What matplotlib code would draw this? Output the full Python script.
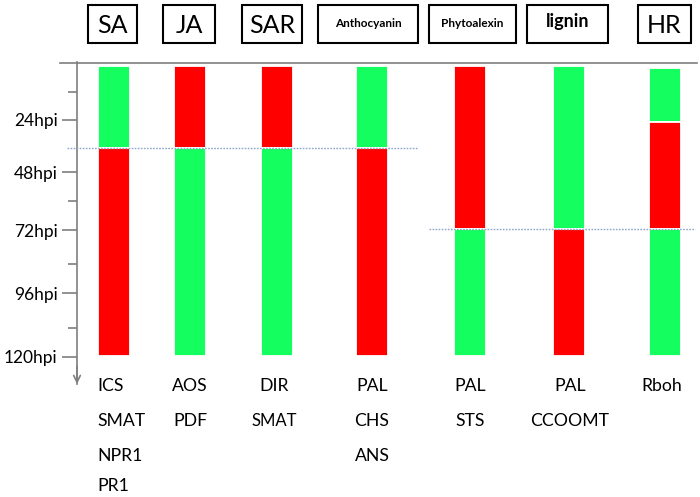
import matplotlib
matplotlib.use("Agg")
import matplotlib.pyplot as plt
from matplotlib.patches import Rectangle

plt.rcParams['font.family'] = ['Lato', 'DejaVu Sans']

# categories (boxes on top) and gene names under each column
categories = ["SA", "JA", "SAR", "Anthocyanin", "Phytoalexin", "lignin", "HR"]
genes = [["ICS", "SMAT", "NPR1", "PR1"],
         ["AOS", "PDF"],
         ["DIR", "SMAT"],
         ["PAL", "CHS", "ANS"],
         ["PAL", "STS"],
         ["PAL", "CCOOMT"],
         ["Rboh"]]

# segment boundaries along the time axis and colour of each segment
seg_bounds = [[0, 34, 120],
              [0, 34, 120],
              [0, 34, 120],
              [0, 34, 120],
              [0, 67.5, 120],
              [0, 67.5, 120],
              [1, 23, 67.5, 120]]
seg_colors = [["g", "r"],
              ["r", "g"],
              ["r", "g"],
              ["g", "r"],
              ["r", "g"],
              ["g", "r"],
              ["g", "r", "g"]]

# tick labels of the time axis
tick_labels = ["24hpi", "48hpi", "72hpi", "96hpi", "120hpi"]

# ---- layout (pixels of a 700x497 figure) ----
W, H = 700.0, 497.0
col_x = [114, 189.5, 277, 371.5, 469.5, 569, 665]
bar_w = 32
tick_pos = [22.3, 43.8, 67.8, 93.8, 120.2]
minor_pos = [10.6, 55.6, 81.8, 108.3]
box_x = [(88, 137), (163, 215), (242, 302), (318, 418), (429, 516), (527, 608), (638, 691)]
box_fs = [18, 18, 18, 8.5, 8.5, 13, 18]
box_fw = ["normal", "normal", "normal", "bold", "bold", "bold", "normal"]
box_base = [33, 33, 33, 27, 27, 27.5, 33]
gene_x = [97.5, 190, 274, 372, 470, 570, 662]
gene_ha = ["left", "center", "center", "center", "center", "center", "center"]
row_base = [391, 426, 461, 491]
colmap = {"g": "#14ff5f", "r": "#ff0000"}
axcol = "#7f7f7f"

fig = plt.figure(figsize=(7, 4.97), dpi=100)
ax = fig.add_axes([60 / W, (H - 384) / H, (697 - 60) / W, (384 - 62.5) / H])
ax.set_xlim(60, 697)
ax.set_ylim(131.4, -1.45)

# stacked bars
for i in range(len(categories)):
    b = seg_bounds[i]
    for k in range(len(seg_colors[i])):
        ax.bar(col_x[i], b[k + 1] - b[k], bottom=b[k], width=bar_w,
               color=colmap[seg_colors[i][k]], edgecolor="white", linewidth=1.3,
               zorder=2)

# dotted separators
ax.hlines(seg_bounds[0][1], 67, 418, colors="#8ea6cc", linestyles=(0, (1.2, 1)), lw=1, zorder=3)
ax.hlines(seg_bounds[4][1], 429, 695, colors="#8ea6cc", linestyles=(0, (1.2, 1)), lw=1, zorder=3)

# axes styling
for s in ["right", "bottom"]:
    ax.spines[s].set_visible(False)
ax.spines["left"].set_position(("data", 77))
ax.spines["left"].set_color(axcol)
ax.spines["top"].set_color(axcol)
ax.spines["left"].set_linewidth(1.2)
ax.spines["top"].set_linewidth(1.2)
ax.set_xticks([])
ax.set_yticks(tick_pos)
ax.set_yticklabels(tick_labels)
ax.set_yticks(minor_pos, minor=True)
ax.tick_params(axis="y", which="major", length=11, width=1.2, color=axcol, pad=3, labelsize=12.5)
ax.tick_params(axis="y", which="minor", length=6.5, width=1.2, color=axcol)
ax.annotate("", xy=(77, 131.4), xytext=(77, 124), annotation_clip=False,
            arrowprops=dict(arrowstyle="->", color=axcol, lw=1.2, shrinkA=0, shrinkB=0,
                            mutation_scale=12))

# boxes with category names
for i, name in enumerate(categories):
    x0, x1 = box_x[i]
    fig.add_artist(Rectangle((x0 / W, 1 - 43 / H), (x1 - x0) / W, 38 / H,
                             transform=fig.transFigure, fill=False, lw=1.5, ec="black"))
    fig.text((x0 + x1) / 2 / W, 1 - box_base[i] / H, name, ha="center", va="baseline",
             fontsize=box_fs[i], fontweight=box_fw[i])

# gene names
for i, gl in enumerate(genes):
    for r, g in enumerate(gl):
        fs = 12 if (i == 2 and r == 1) else 12.7
        fig.text(gene_x[i] / W, 1 - row_base[r] / H, g, ha=gene_ha[i], va="baseline",
                 fontsize=fs)

fig.savefig("out.png", dpi=100)
